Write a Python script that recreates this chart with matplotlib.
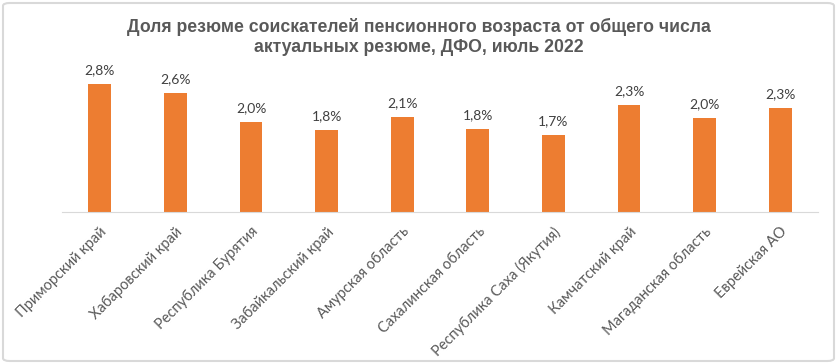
import matplotlib.pyplot as plt
from matplotlib.patches import FancyBboxPatch

regions = ['Приморский край', 'Хабаровский край', 'Республика Бурятия',
           'Забайкальский край', 'Амурская область', 'Сахалинская область',
           'Республика Саха (Якутия)', 'Камчатский край', 'Магаданская область',
           'Еврейская АО']
share = [2.79, 2.59, 1.96, 1.78, 2.07, 1.80, 1.67, 2.33, 2.04, 2.26]

plt.rcParams['font.family'] = ['Lato', 'DejaVu Sans']

fig = plt.figure(figsize=(8.37, 3.64), dpi=100)
ax = fig.add_axes([62/837, 1 - 212/364, 756/837, 138/364])

x = range(len(regions))
ax.bar(x, share, width=0.3, color='#ed7d31')
for i, v in zip(x, share):
    ax.text(i, v + 0.17, ('%.1f%%' % v).replace('.', ','), ha='center', va='bottom',
            fontsize=10, color='#404040')

ax.set_xlim(-0.5, 9.5)
ax.set_ylim(0, 3.0)
ax.set_yticks([])
ax.set_xticks(list(x))
ax.set_xticklabels(regions, rotation=45, ha='right', rotation_mode='anchor',
                   fontsize=10.5, color='#595959')
ax.tick_params(axis='x', length=0, pad=9)
for s in ['top', 'right', 'left']:
    ax.spines[s].set_visible(False)
ax.spines['bottom'].set_color('#d9d9d9')

title_font = ['Liberation Sans Narrow', 'Liberation Sans', 'DejaVu Sans']
fig.text(0.5, 1 - 27/364, 'Доля резюме соискателей пенсионного возраста от общего числа',
         ha='center', va='center', fontsize=12.7, fontweight='bold', color='#595959',
         family=title_font)
fig.text(0.5, 1 - 48/364, 'актуальных резюме, ДФО, июль 2022',
         ha='center', va='center', fontsize=12.7, fontweight='bold', color='#595959',
         family=title_font)

border = FancyBboxPatch((3/837, 3/364), 831/837, 358/364, boxstyle='round,pad=0,rounding_size=0.008',
                        transform=fig.transFigure, fill=False, edgecolor='#d9d9d9', linewidth=1.5)
fig.patches.append(border)

fig.savefig('out.png', dpi=100)
